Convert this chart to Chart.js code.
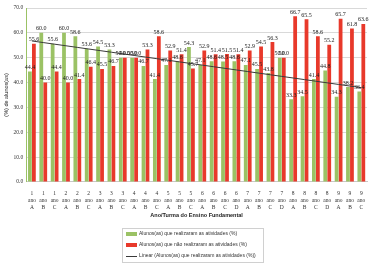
<!DOCTYPE html>
<html>
<head>
<meta charset="utf-8">
<script src="https://cdn.jsdelivr.net/npm/chart.js@4"></script>
<style>
  html, body { margin: 0; padding: 0; background: #fff; }
  #wrap { width: 375px; height: 268px; position: relative; }
</style>
</head>
<body>
<div id="wrap"><canvas id="chart"></canvas></div>
<script>
// Ano / turma
const anos   = ['1','1','1','2','2','2','3','3','3','4','4','4','5','5','5','6','6','6','6','7','7','7','7','8','8','8','8','9','9','9'];
const turmas = ['A','B','C','A','B','C','A','B','C','A','B','C','A','B','C','A','B','C','D','A','B','C','D','A','B','C','D','A','B','C'];

// (%) de alunos(as)
const realizaram    = [44.4,60.0,55.6,60.0,58.6,53.6,54.5,53.3,50.0,50.0,46.7,41.4,47.1,48.6,54.3,47.1,48.6,48.5,48.6,47.1,45.5,43.8,50.0,33.3,34.5,41.4,44.8,34.3,38.2,36.4];
const naoRealizaram = [55.6,40.0,44.4,40.0,41.4,46.4,45.5,46.7,50.0,50.0,53.3,58.6,52.9,51.4,45.7,52.9,51.4,51.5,51.4,52.9,54.5,56.3,50.0,66.7,65.5,58.6,55.2,65.7,61.8,63.6];

const yTicks = [0, 10, 20, 30, 40, 50, 60, 70];

// linha de tendencia linear (minimos quadrados, como o Excel)
function linear(vals) {
    const n = vals.length;
    let sx = 0, sy = 0, sxy = 0, sxx = 0;
    vals.forEach((v, i) => { sx += i; sy += v; sxy += i * v; sxx += i * i; });
    const b = (n * sxy - sx * sy) / (n * sxx - sx * sx);
    const a = (sy - b * sx) / n;
    return vals.map((v, i) => a + b * i);
}

const labels = anos.map((a, i) => [a, 'ano', turmas[i]]);

// rotulos de valor em cima das barras
const valueLabels = {
    id: 'valueLabels',
    afterDatasetsDraw(chart) {
        const ctx = chart.ctx;
        ctx.save();
        ctx.font = '6px "Liberation Serif"';
        ctx.fillStyle = '#222';
        ctx.textAlign = 'center';
        ctx.textBaseline = 'bottom';
        [0, 1].forEach(di => {
            const meta = chart.getDatasetMeta(di);
            meta.data.forEach((bar, i) => {
                ctx.fillText(chart.data.datasets[di].data[i].toFixed(1), bar.x, bar.y - 1);
            });
        });
        ctx.restore();
    }
};

// legenda em caixa embaixo
const boxLegend = {
    id: 'boxLegend',
    afterDraw(chart) {
        const ctx = chart.ctx;
        const x0 = 122, y0 = 228, w = 141, h = 34;
        ctx.save();
        ctx.strokeStyle = '#d0d0d0';
        ctx.lineWidth = 1;
        ctx.strokeRect(x0 + 0.5, y0 + 0.5, w, h);
        ctx.font = '5px "Liberation Sans"';
        ctx.fillStyle = '#333';
        ctx.textBaseline = 'middle';
        const ds = chart.data.datasets;
        const rows = [y0 + 6, y0 + 17, y0 + 28];
        ds.forEach((d, k) => {
            const y = rows[k];
            if (d.type === 'line') {
                ctx.strokeStyle = d.borderColor;
                ctx.beginPath();
                ctx.moveTo(x0 + 4, y + 0.5);
                ctx.lineTo(x0 + 15, y + 0.5);
                ctx.stroke();
            } else {
                ctx.fillStyle = d.backgroundColor;
                ctx.fillRect(x0 + 4, y - 2, 11, 4);
            }
            ctx.fillStyle = '#333';
            ctx.fillText(d.label, x0 + 17, y);
        });
        ctx.restore();
    }
};

new Chart(document.getElementById('chart'), {
    type: 'bar',
    data: {
        labels: labels,
        datasets: [
            {
                label: 'Alunos(as) que realizaram as atividades (%)',
                data: realizaram,
                backgroundColor: '#9bc265',
                categoryPercentage: 0.7,
                barPercentage: 0.95,
                order: 2
            },
            {
                label: 'Alunos(as) que não realizaram as atividades (%)',
                data: naoRealizaram,
                backgroundColor: '#e8392b',
                categoryPercentage: 0.7,
                barPercentage: 0.95,
                order: 2
            },
            {
                type: 'line',
                label: 'Linear (Alunos(as) que realizaram as atividades (%))',
                data: linear(realizaram),
                borderColor: '#3a3a3a',
                borderWidth: 1,
                pointRadius: 0,
                fill: false,
                order: 1
            }
        ]
    },
    options: {
        responsive: true,
        maintainAspectRatio: false,
        animation: false,
        layout: { padding: { top: 8, right: 8, bottom: 49, left: 2 } },
        plugins: {
            legend: { display: false },
            tooltip: { enabled: false }
        },
        scales: {
            x: {
                grid: { display: false },
                border: { color: '#c8c8c8' },
                ticks: {
                    autoSkip: false,
                    maxRotation: 0,
                    padding: 0,
                    color: '#333',
                    font: { family: 'Liberation Serif', size: 5.5, lineHeight: 1.3 }
                },
                title: {
                    display: true,
                    text: 'Ano/Turma do Ensino Fundamental',
                    color: '#222',
                    padding: { top: 1, bottom: 0 },
                    font: { family: 'Liberation Sans', size: 5.5, weight: 'bold' }
                }
            },
            y: {
                min: 0,
                max: 70,
                afterBuildTicks: (axis) => { axis.ticks = yTicks.map(v => ({ value: v })); },
                grid: { color: '#d9d9d9', drawTicks: false },
                border: { color: '#9bc265' },
                ticks: {
                    padding: 3,
                    color: '#333',
                    font: { family: 'Liberation Serif', size: 5.5 },
                    callback: (v) => Number(v).toFixed(1)
                },
                title: {
                    display: true,
                    text: '(%) de alunos(as)',
                    color: '#222',
                    padding: 1,
                    font: { family: 'Liberation Sans', size: 5.5 }
                }
            }
        }
    },
    plugins: [valueLabels, boxLegend]
});
</script>
</body>
</html>
